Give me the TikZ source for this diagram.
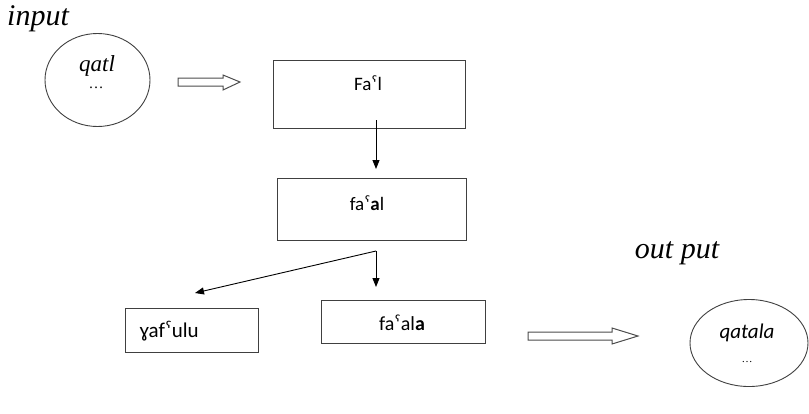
\documentclass[tikz,border=0pt]{standalone}
\usepackage{fontspec}
\setmainfont{Liberation Serif}
\newfontfamily\calib{Carlito}
\usetikzlibrary{arrows.meta,shapes.geometric}
\tikzset{
  stage/.style={draw=black!75, line width=0.9pt, fill=white, inner sep=0pt},
  label/.style={font=\fontsize{30}{32}\selectfont\itshape},
  word/.style={font=\calib\fontsize{19}{21}\selectfont},
  link/.style={draw=black, line width=0.9pt, -{Triangle[length=9pt,width=7pt]}},
  hollow/.style={draw=black!70, line width=1pt, fill=white, line join=miter},
}
\begin{document}
\begin{tikzpicture}[x=1pt,y=-1pt]
\useasboundingbox (0,0) rectangle (809,413);

% titles
\node[label] (tin) at (38,19) {input};
\node[label] (tout) at (677,253) {out put};

% input and output sets
\node[stage, ellipse, minimum width=105pt, minimum height=93pt] (inset) at (97.5,80) {};
\node[font=\fontsize{23}{25}\selectfont\itshape] (qatl) at (97,66) {qatl};
\node[font=\fontsize{15}{17}\selectfont] (dots1) at (96,88) {\dots};

\node[stage, ellipse, minimum width=118pt, minimum height=87pt] (outset) at (749,343) {};
\node[font=\calib\fontsize{21}{23}\selectfont\itshape] (qatala) at (747,333) {qatala};
\node[font=\fontsize{11}{13}\selectfont] (dots2) at (747,362) {\dots};

% boxes
\node[stage, minimum width=192pt, minimum height=68pt] (b1) at (369,94) {};
\node[word] (w1) at (368,83) {Faˤl};

\node[stage, minimum width=189pt, minimum height=62pt] (b2) at (371.5,209) {};
\node[word] (w2) at (367,203) {faˤ\textbf{a}l};

\node[stage, minimum width=133pt, minimum height=44pt] (b3) at (191.5,330) {};
\node[word, font=\calib\fontsize{21}{23}\selectfont, anchor=west] (w3) at (136,331) {ɣafˤulu};

\node[stage, minimum width=164pt, minimum height=43pt] (b4) at (403,321.5) {};
\node[word, font=\calib\fontsize{20}{22}\selectfont] (w4) at (402,323) {faˤal\textbf{a}};

% connectors
\coordinate (s1) at (376,120);
\coordinate (e1) at (376,169);
\draw[link] (s1) -- (e1);

\coordinate (fork) at (376,251);
\coordinate (e2) at (376,287);
\coordinate (e3) at (195,293);
\draw[link] (fork) -- (e2);
\draw[link] (fork) -- (e3);

% hollow arrows
\draw[hollow] (178,78) -- (223,78) -- (223,75) -- (240,82) -- (223,90) -- (223,86) -- (178,86) -- cycle;
\draw[hollow] (528,332) -- (612,332) -- (612,328) -- (638,336) -- (612,344) -- (612,340) -- (528,340) -- cycle;
\end{tikzpicture}
\end{document}
